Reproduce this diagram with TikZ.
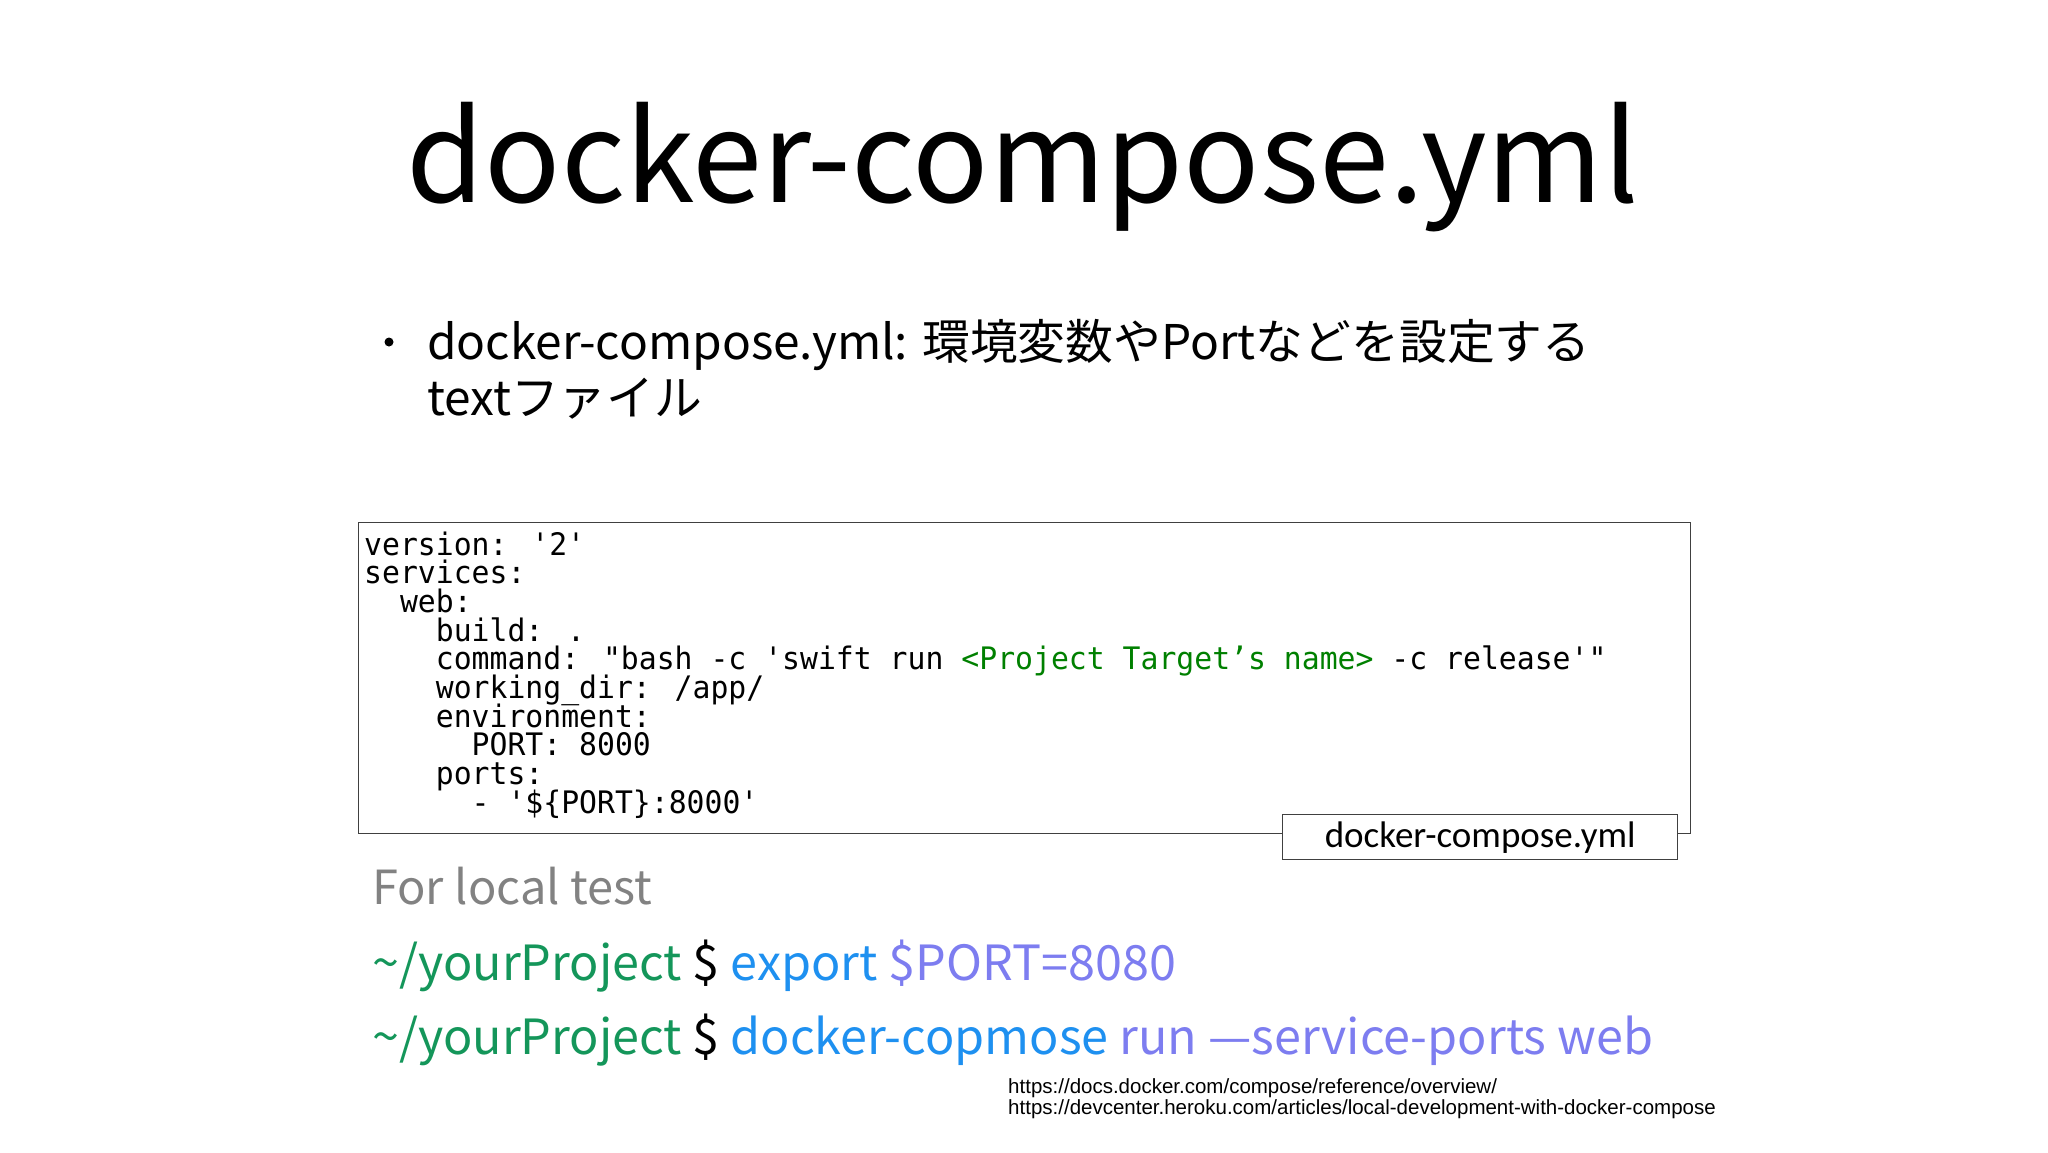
\documentclass[tikz,border=0pt]{standalone}
\usepackage{fontspec}
\setmainfont{Noto Sans CJK JP}
\newfontfamily\jp{Noto Sans CJK JP}
\newfontfamily\codefont[FakeStretch=0.96]{DejaVu Sans Mono}
\newfontfamily\labfont{Carlito}
\newfontfamily\urlfont{Liberation Sans}
\definecolor{cgreen}{RGB}{20,150,90}
\definecolor{cblue}{RGB}{30,144,240}
\definecolor{cpurple}{RGB}{125,125,240}
\definecolor{cgray}{RGB}{130,130,130}
\definecolor{codegreen}{RGB}{0,128,0}
\tikzset{txt/.style={inner sep=0pt,anchor=base west},
code/.style={txt,font=\codefont\fontsize{31}{34}\selectfont},
big/.style={txt,font=\jp\fontsize{48.5}{52}\selectfont},
url/.style={txt,font=\urlfont\fontsize{20.5}{22}\selectfont},
box/.style={draw=black!75,line width=1.3pt}}
\begin{document}
\begin{tikzpicture}[x=1pt,y=-1pt]
\useasboundingbox (0,0) rectangle (2048,1152);
\node[inner sep=0pt,anchor=base] (title) at (1023,202) {\jp\fontsize{126}{130}\selectfont docker-compose.yml};
\fill (389,342) circle (4.5);
\node[txt,font=\jp\fontsize{47.8}{52}\selectfont] (b1) at (427,359) {docker-compose.yml: 環境変数やPortなどを設定する};
\node[txt,font=\jp\fontsize{47.8}{52}\selectfont] (b2) at (427,415) {textファイル};
\node[box,inner sep=0pt,minimum width=1332,minimum height=311,anchor=north west] (code) at (358,522) {};
\node[code] (c1) at (364,555) {version: '2'};
\node[code] (c2) at (364,583.7) {services:};
\node[code] (c3) at (364,612.4) {\ \ web:};
\node[code] (c4) at (364,641.1) {\ \ \ \ build: .};
\node[code] (c5) at (364,669.8) {\ \ \ \ command: "bash -c 'swift run \textcolor{codegreen}{<Project Target’s name>} -c release'"};
\node[code] (c6) at (364,698.5) {\ \ \ \ working\_dir: /app/};
\node[code] (c7) at (364,727.2) {\ \ \ \ environment:};
\node[code] (c8) at (364,755.9) {\ \ \ \ \ \ PORT: 8000};
\node[code] (c9) at (364,784.6) {\ \ \ \ ports:};
\node[code] (c10) at (364,813.3) {\ \ \ \ \ \ - '\$\{PORT\}:8000'};
\node[box,fill=white,inner sep=0pt,minimum width=395,minimum height=45,anchor=north west] (lab) at (1282,814) {};
\node[inner sep=0pt] (labt) at (lab.center) {\labfont\fontsize{37}{40}\selectfont docker-compose.yml};
\node[txt,text=cgray] (local) at (372,904) {\jp\fontsize{47}{50}\selectfont For local test};
\node[big] (l1) at (372,980) {\textcolor{cgreen}{\textasciitilde/yourProject} \$ \textcolor{cblue}{export} \textcolor{cpurple}{\$PORT=8080}};
\node[big] (l2) at (372,1054) {\textcolor{cgreen}{\textasciitilde/yourProject} \$ \textcolor{cblue}{docker-copmose} \textcolor{cpurple}{run —service-ports web}};
\node[url] (u1) at (1008,1093) {https://docs.docker.com/compose/reference/overview/};
\node[url] (u2) at (1008,1114) {https://devcenter.heroku.com/articles/local-development-with-docker-compose};
\end{tikzpicture}
\end{document}
